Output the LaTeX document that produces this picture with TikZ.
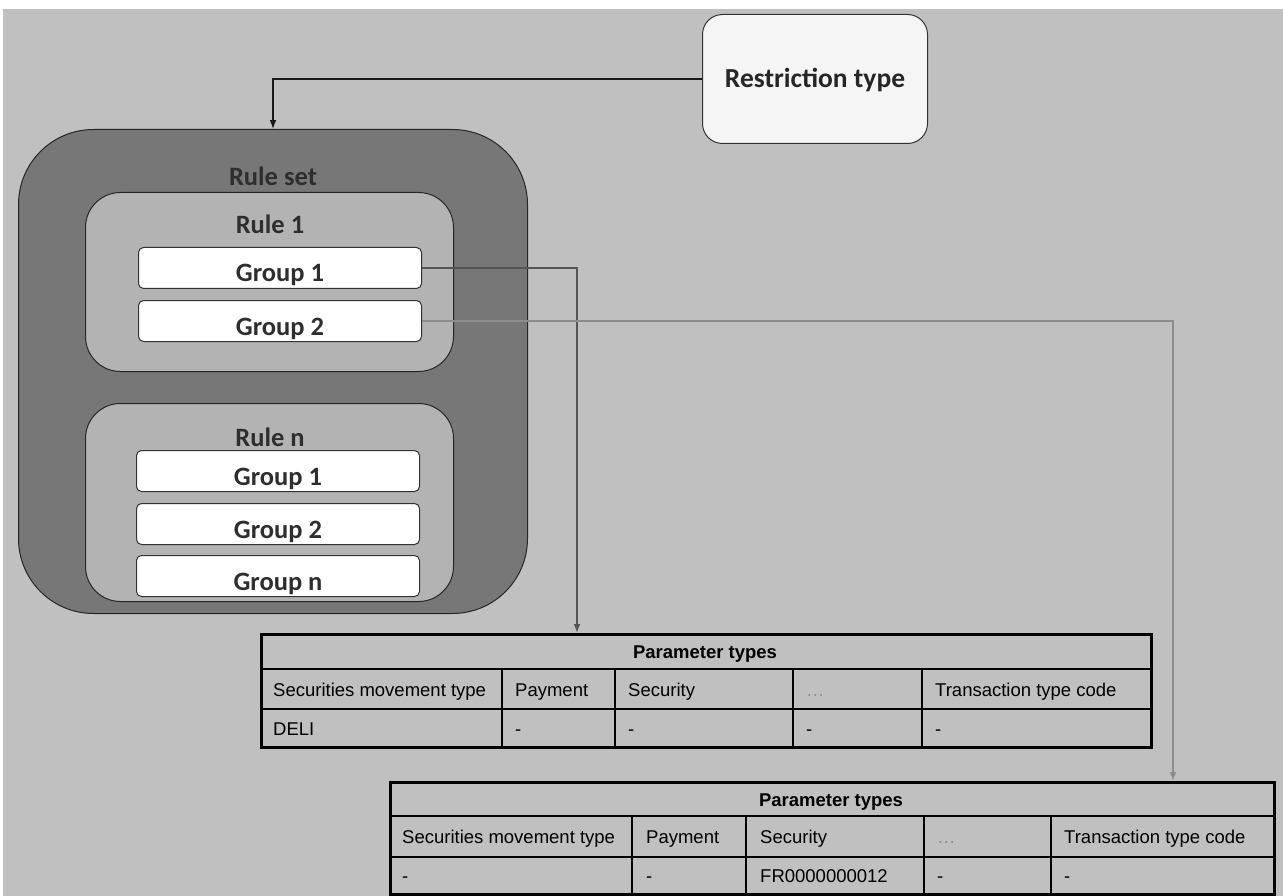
\documentclass[tikz,border=0pt]{standalone}
\usepackage{fontspec}
\setmainfont{Liberation Sans}
\newfontfamily\boxfont{Carlito}
\usetikzlibrary{positioning,arrows.meta,calc}
\definecolor{bggray}{HTML}{C0C0C0}
\definecolor{setgray}{HTML}{777777}
\definecolor{rulegray}{HTML}{B3B3B3}
\definecolor{labeltxt}{HTML}{2E2E2E}
\definecolor{linkdark}{HTML}{555555}
\definecolor{linklight}{HTML}{8C8C8C}

\tikzset{
  setbox/.style={draw=black!85, fill=setgray, line width=1pt, rounded corners=75pt, anchor=north west, inner sep=0pt},
  rulebox/.style={draw=black!85, fill=rulegray, line width=1pt, rounded corners=35pt, anchor=north west, inner sep=0pt, minimum width=368pt},
  groupbox/.style={draw=black!80, fill=white, line width=1pt, rounded corners=5pt, anchor=north west, inner sep=0pt,
    minimum width=283pt, minimum height=41pt, text height=28pt, text depth=0pt, text=labeltxt,
    font=\boxfont\bfseries\fontsize{26.5}{28}\selectfont},
  boxlabel/.style={anchor=base, text=labeltxt, font=\boxfont\bfseries\fontsize{26.5}{28}\selectfont, inner sep=0pt},
  tablebox/.style={draw=black, line width=3pt, anchor=north west, inner sep=0pt},
  cell/.style={anchor=base west, inner sep=0pt, font=\fontsize{18.5}{20}\selectfont},
  headcell/.style={anchor=base, inner sep=0pt, font=\bfseries\fontsize{18.5}{20}\selectfont}
}

\begin{document}
\begin{tikzpicture}[x=1pt, y=-1pt, >=Latex]
  \useasboundingbox (0,0) rectangle (1283,896);
  \fill[white] (0,0) rectangle (1283,896);
  \fill[bggray] (3,9) rectangle (1283,896);

  \node[draw=black!80, fill=black!4, line width=1pt, rounded corners=20pt, minimum width=225pt, minimum height=129pt,
    anchor=north west, inner sep=0pt] (rt) at (702,14) {};
  \node[boxlabel, text=black!85, font=\boxfont\bfseries\fontsize{27.5}{29}\selectfont] (rtlab) at (815,88) {Restriction type};

  \node[setbox, minimum width=509pt, minimum height=484pt] (rs) at (18,129) {};
  \node[boxlabel] (rslab) at (273,186) {Rule set};

  \node[rulebox, minimum height=179pt] (r1) at (85,192) {};
  \node[boxlabel] (r1lab) at (270,234) {Rule 1};
  \node[groupbox] (g11) at (138,247) {Group 1};
  \node[groupbox] (g12) at (138,300) {Group 2};

  \node[rulebox, minimum height=198pt] (rn) at (85,403) {};
  \node[boxlabel] (rnlab) at (270,446) {Rule n};
  \node[groupbox] (gn1) at (136,450) {Group 1};
  \node[groupbox] (gn2) at (136,503) {Group 2};
  \node[groupbox] (gnn) at (136,555) {Group n};

  % first parameter table
  \node[tablebox, minimum width=890pt, minimum height=113pt] (tabA) at (260,633) {};
  \draw[line width=1.6pt] (tabA.west |- 0,669) -- (tabA.east |- 0,669);
  \draw[line width=1.6pt] (tabA.west |- 0,709) -- (tabA.east |- 0,709);
  \foreach \x in {502,615,793,922}
    \draw[line width=1.2pt] (\x,669) -- (\x,746);
  \node[headcell] (tabAhead) at (705,658) {Parameter types};
  \foreach \x/\t in {273/Securities movement type, 515/Payment, 628/Security, 935/Transaction type code}
    \node[cell] at (\x,696) {\t};
  \node[cell, text=black!45] at (806,696) {\textellipsis};
  \foreach \x/\t in {273/DELI, 515/-, 628/-, 806/-, 935/-}
    \node[cell] at (\x,735) {\t};

  % second parameter table
  \node[tablebox, minimum width=884pt, minimum height=112pt] (tabB) at (389,781) {};
  \draw[line width=1.6pt] (tabB.west |- 0,816) -- (tabB.east |- 0,816);
  \draw[line width=1.6pt] (tabB.west |- 0,857) -- (tabB.east |- 0,857);
  \foreach \x in {632,746,924,1051}
    \draw[line width=1.2pt] (\x,816) -- (\x,893);
  \node[headcell] (tabBhead) at (831,806) {Parameter types};
  \foreach \x/\t in {402/Securities movement type, 646/Payment, 760/Security, 1064/Transaction type code}
    \node[cell] at (\x,843) {\t};
  \node[cell, text=black!45] at (937,843) {\textellipsis};
  \foreach \x/\t in {402/-, 646/-, 760/FR0000000012, 937/-, 1064/-}
    \node[cell] at (\x,882) {\t};

  \coordinate (inA) at (577,633);
  \coordinate (inB) at (1173,781);

  \draw[->, line width=1.3pt, black!90] (rt.west) -| (rs.north);
  \draw[-{Latex[length=9pt,width=7pt]}, line width=2.4pt, linkdark] (g11.east) -| (inA);
  \draw[-{Latex[length=9pt,width=7pt]}, line width=2.4pt, linklight] (g12.east) -| (inB);
\end{tikzpicture}
\end{document}
